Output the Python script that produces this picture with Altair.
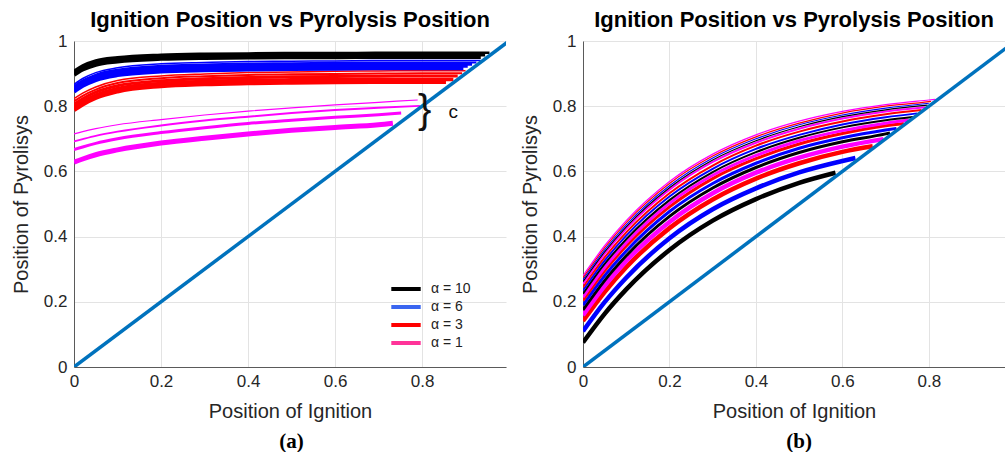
import altair as alt
import pandas as pd

# ---------------- panel (a): values ----------------
A_GRID = [0, 0.02, 0.05, 0.1, 0.2, 0.3, 0.4, 0.5, 0.6, 0.7, 0.8, 0.9]

A_BLACK_END = [0.935, 0.945, 0.955]
A_BLACK_W = [4.5, 3.5, 2.5]
A_BLACK_Y = [
    [0.897, 0.913, 0.928, 0.938, 0.946, 0.949, 0.950, 0.951, 0.951, 0.952, 0.952, 0.952, 0.952],
    [0.903, 0.919, 0.934, 0.944, 0.952, 0.955, 0.956, 0.957, 0.957, 0.958, 0.958, 0.958, 0.958],
    [0.909, 0.925, 0.940, 0.950, 0.958, 0.961, 0.962, 0.963, 0.963, 0.964, 0.964, 0.964, 0.964],
]

A_BLUE_END = [0.895, 0.905, 0.915, 0.925, 0.935]
A_BLUE_W = [4.5, 3.5, 3.0, 2.0, 1.5]
A_BLUE_Y = [
    [0.845, 0.863, 0.881, 0.896, 0.907, 0.911, 0.913, 0.915, 0.916, 0.917, 0.917, 0.917],
    [0.850, 0.868, 0.886, 0.901, 0.913, 0.917, 0.919, 0.921, 0.922, 0.923, 0.923, 0.923, 0.923],
    [0.856, 0.874, 0.892, 0.907, 0.919, 0.923, 0.925, 0.927, 0.928, 0.929, 0.929, 0.929, 0.929],
    [0.861, 0.879, 0.897, 0.912, 0.924, 0.928, 0.931, 0.932, 0.933, 0.934, 0.934, 0.934, 0.934],
    [0.867, 0.885, 0.903, 0.918, 0.930, 0.934, 0.937, 0.938, 0.939, 0.940, 0.940, 0.940, 0.940],
]

A_RED_END = [0.855, 0.872, 0.882, 0.892, 0.900]
A_RED_W = [4.5, 3.5, 3.0, 2.0, 1.5]
A_RED_Y = [
    [0.789, 0.806, 0.826, 0.846, 0.862, 0.868, 0.871, 0.873, 0.874, 0.875, 0.875, 0.875],
    [0.797, 0.814, 0.834, 0.854, 0.870, 0.876, 0.879, 0.881, 0.882, 0.882, 0.882, 0.882],
    [0.806, 0.823, 0.843, 0.863, 0.878, 0.884, 0.888, 0.890, 0.891, 0.892, 0.893, 0.893],
    [0.815, 0.832, 0.851, 0.871, 0.886, 0.892, 0.896, 0.898, 0.899, 0.900, 0.901, 0.901],
    [0.823, 0.840, 0.859, 0.879, 0.893, 0.899, 0.903, 0.905, 0.907, 0.908, 0.909, 0.909],
]

A_MAG_END = [0.733, 0.752, 0.795, 0.790]
A_MAG_W = [5.0, 3.0, 2.0, 1.2]
A_MAG_Y = [
    [0.628, 0.638, 0.651, 0.666, 0.687, 0.702, 0.715, 0.726, 0.735, 0.743, 0.748],
    [0.667, 0.675, 0.686, 0.700, 0.719, 0.734, 0.747, 0.757, 0.766, 0.774, 0.779],
    [0.692, 0.699, 0.709, 0.722, 0.741, 0.756, 0.768, 0.779, 0.788, 0.795, 0.801],
    [0.715, 0.722, 0.731, 0.743, 0.759, 0.773, 0.785, 0.795, 0.804, 0.812, 0.819],
]

# ---------------- panel (b) ----------------
B_GRID = [0, 0.05, 0.1, 0.2, 0.3, 0.4, 0.5, 0.6, 0.7, 0.8]
B_COLORS = ["#000000", "#0000ff", "#ff0000", "#ff00ff"]
B_GROUP_W = [4.5, 3.0, 2.0, 1.2]
B_END = [
    [0.584, 0.630, 0.670, 0.695],
    [0.710, 0.725, 0.742, 0.753],
    [0.763, 0.773, 0.783, 0.792],
    [0.797, 0.800, 0.805, 0.815],
]
B_Y = [
    [
        [0.075, 0.163, 0.238, 0.359, 0.449, 0.515, 0.565, 0.596],
        [0.110, 0.199, 0.274, 0.395, 0.484, 0.548, 0.597, 0.632, 0.641],
        [0.141, 0.230, 0.306, 0.426, 0.514, 0.578, 0.625, 0.660, 0.677],
        [0.159, 0.249, 0.325, 0.445, 0.533, 0.596, 0.642, 0.676, 0.699],
    ],
    [
        [0.175, 0.265, 0.341, 0.462, 0.549, 0.612, 0.658, 0.691, 0.715, 0.718],
        [0.190, 0.280, 0.356, 0.477, 0.563, 0.625, 0.671, 0.703, 0.727, 0.732],
        [0.204, 0.295, 0.371, 0.491, 0.578, 0.639, 0.684, 0.716, 0.740, 0.747],
        [0.214, 0.305, 0.381, 0.502, 0.588, 0.649, 0.694, 0.725, 0.748, 0.758],
    ],
    [
        [0.225, 0.316, 0.392, 0.512, 0.598, 0.659, 0.703, 0.735, 0.757, 0.767],
        [0.235, 0.326, 0.403, 0.523, 0.608, 0.669, 0.712, 0.744, 0.766, 0.778],
        [0.245, 0.336, 0.413, 0.533, 0.618, 0.679, 0.722, 0.753, 0.775, 0.788],
        [0.255, 0.347, 0.424, 0.544, 0.629, 0.688, 0.731, 0.762, 0.784, 0.797],
    ],
    [
        [0.262, 0.353, 0.430, 0.550, 0.635, 0.694, 0.737, 0.768, 0.789, 0.803],
        [0.268, 0.359, 0.436, 0.556, 0.641, 0.700, 0.743, 0.773, 0.794, 0.809],
        [0.274, 0.366, 0.443, 0.563, 0.647, 0.706, 0.748, 0.779, 0.800, 0.814, 0.815],
        [0.280, 0.372, 0.449, 0.569, 0.653, 0.712, 0.754, 0.784, 0.805, 0.819, 0.821],
    ],
]

DIAG = [0, 1]
LEG_LABELS = ["α = 10", "α = 6", "α = 3", "α = 1"]
LEG_COLORS = ["#000000", "#3a66f0", "#ff0000", "#ff3399"]
X_TICKS = [0, 0.2, 0.4, 0.6, 0.8]
Y_TICKS = [0, 0.2, 0.4, 0.6, 0.8, 1]
TITLE = "Ignition Position vs Pyrolysis Position"


def add_curves(rows, grid, ends, ys, color, widths, prefix):
    for i, (end, yv, w) in enumerate(zip(ends, ys, widths)):
        xs = [g for g in grid if g < end] + [end]
        for j, (x, y) in enumerate(zip(xs, yv)):
            rows.append(dict(curve=f"{prefix}{i}", x=x, y=y, color=color, w=w, o=j))


rows_a = []
add_curves(rows_a, A_GRID, A_MAG_END, A_MAG_Y, "#ff00ff", A_MAG_W, "m")
add_curves(rows_a, A_GRID, A_RED_END, A_RED_Y, "#ff0000", A_RED_W, "r")
add_curves(rows_a, A_GRID, A_BLUE_END, A_BLUE_Y, "#0000ff", A_BLUE_W, "u")
add_curves(rows_a, A_GRID, A_BLACK_END, A_BLACK_Y, "#000000", A_BLACK_W, "k")
df_a = pd.DataFrame(rows_a)

rows_b = []
for g in range(4):
    for c in range(4):
        xs = [v for v in B_GRID if v < B_END[g][c]] + [B_END[g][c]]
        for j, (x, y) in enumerate(zip(xs, B_Y[g][c])):
            rows_b.append(dict(curve=f"g{g}c{c}", x=x, y=y, color=B_COLORS[c],
                               w=B_GROUP_W[g], o=j))
df_b = pd.DataFrame(rows_b)

diag_df = pd.DataFrame({"x": DIAG, "y": DIAG})
leg_df = pd.DataFrame({"label": LEG_LABELS, "x": [0] * 4, "y": [0] * 4})

FONT = "Liberation Sans"
AX_COMMON = dict(
    grid=True, gridColor="#e3e3e3", gridWidth=1,
    domainColor="#5a5a5a", domainWidth=1,
    ticks=False, tickSize=0,
    labelFont=FONT, labelFontSize=17, labelColor="#262626",
    titleFont=FONT, titleFontSize=20, titleFontWeight="normal", titleColor="#262626",
    format="~g", labelFlush=False, labelOverlap=False,
)


def panel(df, xmax, width, letter, legend=False, brace=False):
    xs = alt.Scale(domain=[0, xmax], nice=False, zero=False)
    ys = alt.Scale(domain=[0, 1], nice=False)
    xax = alt.Axis(values=X_TICKS, title="Position of Ignition", labelPadding=6,
                   titlePadding=12, **AX_COMMON)
    yax = alt.Axis(values=Y_TICKS, title="Position of Pyrolisys", labelPadding=7,
                   titlePadding=12, **AX_COMMON)
    curves = alt.Chart(df).mark_line(interpolate="monotone", clip=True, strokeCap="butt").encode(
        x=alt.X("x:Q", scale=xs, axis=xax),
        y=alt.Y("y:Q", scale=ys, axis=yax),
        detail="curve:N",
        stroke=alt.Stroke("color:N", scale=None),
        strokeWidth=alt.StrokeWidth("w:Q", scale=None),
        order="o:Q",
    )
    diag = alt.Chart(diag_df).mark_line(clip=True, color="#0072BD", strokeWidth=3.5).encode(
        x="x:Q", y="y:Q")
    lab_df = pd.DataFrame({"x": [0.5], "y": [-0.23], "t": [f"({letter})"]})
    lab = alt.Chart(lab_df).mark_text(font="Liberation Serif", fontSize=21, fontWeight="bold",
                                      color="#000000").encode(x="x:Q", y="y:Q", text="t:N")
    layers = [curves, diag, lab]
    if brace:
        ann_df = pd.DataFrame({"x": [0.806, 0.872], "y": [0.786, 0.782], "t": ["}", "c"],
                               "s": [40, 19]})
        ann = alt.Chart(ann_df).mark_text(font=FONT, color="#111111").encode(
            x="x:Q", y="y:Q", text="t:N", size=alt.Size("s:Q", scale=None))
        layers.append(ann)
    if legend:
        leg = alt.Chart(leg_df).mark_line(strokeWidth=4).encode(
            x="x:Q", y="y:Q",
            color=alt.Color("label:N", scale=alt.Scale(domain=LEG_LABELS, range=LEG_COLORS),
                            legend=alt.Legend(title=None, orient="none", legendX=323, legendY=239,
                                              symbolType="M-2.1,0H2.1", symbolStrokeWidth=4,
                                              symbolSize=196, labelFont=FONT, labelFontSize=14,
                                              labelColor="#222222", labelOffset=16,
                                              rowPadding=1, padding=0)))
        layers.append(leg)
    return alt.layer(*layers).properties(
        width=width, height=326,
        title=alt.Title(TITLE, font=FONT, fontSize=22, fontWeight="bold", color="#000000",
                        offset=0),
    )


left = panel(df_a, 0.993, 432, "a", legend=True, brace=True)
right = panel(df_b, 0.976, 422, "b")

chart = alt.hconcat(left, right, spacing=14).properties(
    padding={"left": 11, "top": 9, "right": 0, "bottom": 0}
).configure_view(stroke=None)

chart.save("out.html", embed_options={"renderer": "svg", "actions": False})
